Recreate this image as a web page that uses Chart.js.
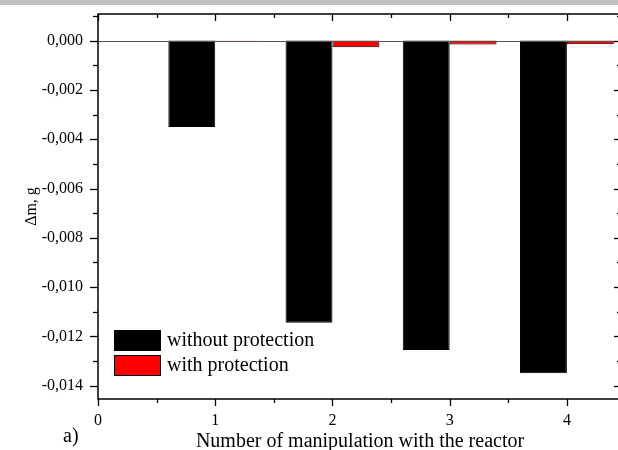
<!DOCTYPE html>
<html><head><meta charset="utf-8">
<script src="https://cdn.jsdelivr.net/npm/chart.js@4.4.1/dist/chart.umd.min.js"></script>
<style>
html,body{margin:0;padding:0;overflow:hidden;background:#fff;width:618px;height:450px;}
#band{position:absolute;left:0;top:0;width:618px;height:5px;background:#c0c0c0;}
#wrap{position:absolute;left:0;top:0;width:622px;height:450px;}
</style></head><body>
<div id="wrap"><canvas id="c"></canvas></div>
<div id="band"></div>
<script>
// ---- data ----
const categories = [1, 2, 3, 4];
const xTickLabels = ['0', '1', '2', '3', '4'];
const seriesNames = ['without protection', 'with protection'];
const withoutProtection = [-0.0035, -0.01145, -0.01255, -0.01350];
const withProtection = [0.00002, -0.00027, -0.00016, -0.00015];
const xTitle = 'Number of manipulation with the reactor';
const yTitle = 'Δm, g';
const panelLabel = 'a)';

const FONT = '"Liberation Serif", "Times New Roman", serif';
const yMinor = 0.001;

function fmtY(v) {
  const k = Math.round(v / yMinor);
  if (Math.abs(v - k * yMinor) > 1e-7 || k % 2 !== 0) return '';
  if (k === 0) return '0,000';
  return (k * yMinor).toFixed(3).replace('.', ',');
}

const framePlugin = {
  id: 'frame',
  afterDatasetsDraw(chart) {
    const {ctx, chartArea: a, scales: {x, y}} = chart;
    const line = (x1, y1, x2, y2) => { ctx.beginPath(); ctx.moveTo(x1, y1); ctx.lineTo(x2, y2); ctx.stroke(); };
    ctx.save();
    const y0 = Math.round(y.getPixelForValue(0)) + 0.5;
    ctx.strokeStyle = '#555'; ctx.lineWidth = 1;
    line(a.left, y0, a.right, y0);
    ctx.strokeStyle = '#000'; ctx.lineWidth = 1.5;
    ctx.strokeRect(a.left, a.top, a.right - a.left, a.bottom - a.top);
    ctx.lineWidth = 1.3;
    const kMin = Math.ceil(y.min / yMinor - 1e-6), kMax = Math.floor(y.max / yMinor + 1e-6);
    for (let k = kMin; k <= kMax; k++) {
      const py = Math.round(y.getPixelForValue(k * yMinor)) + 0.5;
      const L = (k % 2 === 0) ? 8 : 5;
      line(a.left - L, py, a.left, py);
      line(a.right - L, py, a.right, py);
    }
    for (let k = 0; k * 0.5 <= x.max + 1e-9; k++) {
      const px = Math.round(x.getPixelForValue(k * 0.5)) + 0.5;
      const L = (k % 2 === 0) ? 7 : 4;
      line(px, a.bottom, px, a.bottom + L);
      line(px, a.top, px, a.top + L);
    }
    ctx.restore();
  },
  afterDraw(chart) {
    const {ctx, chartArea: a} = chart;
    ctx.save();
    chart.data.datasets.forEach((ds, i) => {
      const bx = a.left + 16, by = a.bottom - 69 + i * 25;
      ctx.fillStyle = ds.backgroundColor;
      ctx.fillRect(bx, by, 47, 21);
      ctx.strokeStyle = '#000'; ctx.lineWidth = 1;
      ctx.strokeRect(bx + 0.5, by + 0.5, 46, 20);
      ctx.fillStyle = '#000';
      ctx.font = '20px ' + FONT;
      ctx.textBaseline = 'middle';
      ctx.textAlign = 'left';
      ctx.fillText(ds.label, bx + 53, by + 11);
    });
    ctx.font = '20px ' + FONT;
    ctx.textBaseline = 'middle';
    ctx.fillStyle = '#000';
    ctx.fillText(panelLabel, 63, 437);
    ctx.restore();
  }
};

new Chart(document.getElementById('c'), {
  type: 'bar',
  data: {
    datasets: [
      { label: seriesNames[0], data: categories.map((c, i) => ({x: c, y: withoutProtection[i]})),
        backgroundColor: '#000000', borderColor: '#000000', borderWidth: 1 },
      { label: seriesNames[1], data: categories.map((c, i) => ({x: c, y: withProtection[i]})),
        backgroundColor: '#ff0000', borderColor: '#000000', borderWidth: 1 }
    ]
  },
  options: {
    responsive: true,
    maintainAspectRatio: false,
    animation: false,
    layout: { padding: { top: 14, right: 0, bottom: 0, left: 0 } },
    datasets: { bar: { categoryPercentage: 0.8, barPercentage: 1.0 } },
    plugins: { legend: { display: false }, tooltip: { enabled: false } },
    scales: {
      x: {
        type: 'linear', min: 0, max: 4.47, offset: false,
        grid: { display: false, drawTicks: false, offset: false },
        border: { display: false },
        ticks: { stepSize: 1, includeBounds: false, autoSkip: false, maxRotation: 0, padding: 12,
          color: '#000', font: { family: FONT, size: 16 },
          callback: (v) => { const i = Math.round(v); return Math.abs(v - i) < 1e-6 && xTickLabels[i] !== undefined ? xTickLabels[i] : ''; } },
        title: { display: true, text: xTitle, color: '#000', font: { family: FONT, size: 20, lineHeight: 0.8 }, padding: { top: 0, bottom: 0 } },
        afterFit: (s) => { s.height = 51; s.paddingLeft = 0; s.paddingRight = 0; }
      },
      y: {
        min: -0.01454, max: 0.00108,
        grid: { display: false, drawTicks: false },
        border: { display: false },
        ticks: { stepSize: yMinor, includeBounds: false, autoSkip: false, padding: 15,
          color: '#000', font: { family: FONT, size: 16 }, callback: fmtY },
        title: { display: true, text: yTitle, color: '#000', font: { family: FONT, size: 16, lineHeight: 1.2 }, padding: { top: 22, bottom: 0 } },
        afterFit: (s) => { s.width = 98; s.paddingTop = 0; s.paddingBottom = 0; }
      }
    }
  },
  plugins: [framePlugin]
});
</script>
</body></html>
